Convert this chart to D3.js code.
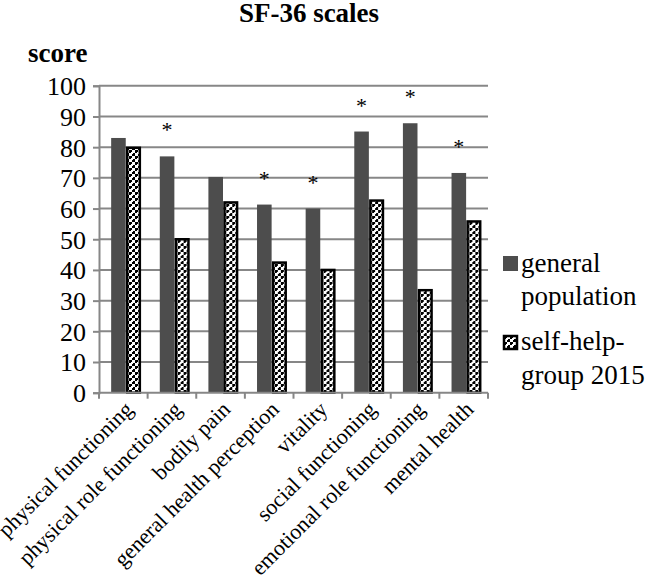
<!DOCTYPE html>
<meta charset="utf-8">
<script src="https://d3js.org/d3.v7.min.js"></script>
<body style="margin:0">
<div id="chart"></div>
<script>
// data
var categories = ["physical functioning", "physical role functioning", "bodily pain",
  "general health perception", "vitality", "social functioning",
  "emotional role functioning", "mental health"];
var seriesNames = ["general population", "self-help-group 2015"];
var generalPopulation = [83, 77, 70.3, 61.3, 60, 85.1, 87.8, 71.6];
var selfHelpGroup = [79.8, 50, 62, 42.4, 40, 62.6, 33.4, 55.8];
var significant = [false, true, false, true, true, true, true, true];
var yTicks = [0, 10, 20, 30, 40, 50, 60, 70, 80, 90, 100];

var W = 647, H = 576;
var plotLeft = 99, plotRight = 488, plotTop = 85.8, plotBottom = 392.7;
var serif = "Liberation Serif";

var svg = d3.select("#chart").append("svg")
  .attr("width", W).attr("height", H);

// stepped check pattern for the self-help bars
var defs = svg.append("defs");
var pat = defs.append("pattern")
  .attr("id", "checks")
  .attr("patternUnits", "userSpaceOnUse")
  .attr("width", 6).attr("height", 6);
pat.append("rect").attr("width", 6).attr("height", 6).attr("fill", "#000");
pat.append("rect").attr("x", 0).attr("y", 3).attr("width", 3).attr("height", 3).attr("fill", "#fff");
pat.append("rect").attr("x", 3).attr("y", 0).attr("width", 3).attr("height", 3).attr("fill", "#fff");
pat.append("rect").attr("x", 2).attr("y", 2).attr("width", 2).attr("height", 2).attr("fill", "#fff");

var x = d3.scaleBand().domain(categories).range([plotLeft, plotRight]);
var x1 = d3.scaleBand().domain(seriesNames)
  .range([x.bandwidth() * 0.25, x.bandwidth() * 0.85]);
var y = d3.scaleLinear().domain([0, 100]).range([plotBottom, plotTop]);

// title
svg.append("text").attr("x", 309).attr("y", 22)
  .attr("text-anchor", "middle").attr("font-size", 27).attr("font-weight", "bold")
  .text("SF-36 scales");
svg.append("text").attr("x", 28).attr("y", 62)
  .attr("font-size", 27).attr("font-weight", "bold")
  .text("score");

// gridlines + y axis
var yAxis = svg.append("g").attr("transform", "translate(" + plotLeft + ",0)")
  .call(d3.axisLeft(y).tickValues(yTicks).tickSize(6).tickPadding(7));
yAxis.select(".domain").attr("stroke", "#878787").attr("stroke-width", 2);
yAxis.selectAll(".tick line").attr("stroke", "#878787").attr("stroke-width", 2);
yAxis.selectAll(".tick text").attr("dy", "0.34em").attr("fill", "#000")
  .attr("font-size", 26);

svg.append("g").selectAll("line").data(yTicks.slice(1)).enter().append("line")
  .attr("x1", plotLeft).attr("x2", plotRight)
  .attr("y1", function(d) { return y(d); }).attr("y2", function(d) { return y(d); })
  .attr("stroke", "#878787").attr("stroke-width", 2);

// bars
var rows = categories.map(function(c, i) {
  return { cat: c, vals: [generalPopulation[i], selfHelpGroup[i]], sig: significant[i] };
});
var groups = svg.append("g").selectAll("g").data(rows).enter().append("g")
  .attr("transform", function(d) { return "translate(" + x(d.cat) + ",0)"; });

groups.append("rect")
  .attr("x", x1(seriesNames[0]))
  .attr("width", x1.bandwidth())
  .attr("y", function(d) { return y(d.vals[0]); })
  .attr("height", function(d) { return plotBottom - y(d.vals[0]); })
  .attr("fill", "#4d4d4d");

groups.append("rect")
  .attr("x", x1(seriesNames[1]) + 1.5)
  .attr("width", x1.bandwidth() - 2)
  .attr("y", function(d) { return y(d.vals[1]); })
  .attr("height", function(d) { return plotBottom - y(d.vals[1]); })
  .attr("fill", "url(#checks)")
  .attr("stroke", "#000").attr("stroke-width", 2.5);

// significance stars above general population bars
groups.filter(function(d) { return d.sig; }).append("text")
  .attr("x", x1(seriesNames[0]) + x1.bandwidth() / 2)
  .attr("y", function(d) { return y(d.vals[0]) - 19; })
  .attr("text-anchor", "middle").attr("font-size", 22)
  .text("*");

// x axis
var xAxis = svg.append("g").attr("transform", "translate(0," + plotBottom + ")");
xAxis.append("line").attr("x1", plotLeft).attr("x2", plotRight)
  .attr("stroke", "#878787").attr("stroke-width", 2);
xAxis.selectAll("line.tk").data(categories.concat(["end"])).enter().append("line")
  .attr("class", "tk")
  .attr("x1", function(d, i) { return plotLeft + i * x.bandwidth(); })
  .attr("x2", function(d, i) { return plotLeft + i * x.bandwidth(); })
  .attr("y1", 0).attr("y2", 6)
  .attr("stroke", "#878787").attr("stroke-width", 2);
xAxis.selectAll("text").data(categories).enter().append("text")
  .attr("transform", function(d) {
    return "translate(" + (x(d) + x.bandwidth() / 2 + 11) + ",18) rotate(-45)";
  })
  .attr("text-anchor", "end").attr("font-size", 22)
  .text(function(d) { return d; });

// legend
var legend = svg.append("g");
legend.append("rect").attr("x", 503).attr("y", 256).attr("width", 15).attr("height", 15)
  .attr("fill", "#4d4d4d");
legend.append("text").attr("x", 521).attr("y", 272).text("general");
legend.append("text").attr("x", 521).attr("y", 305).text("population");
legend.append("rect").attr("x", 504).attr("y", 336).attr("width", 13).attr("height", 13)
  .attr("fill", "url(#checks)").attr("stroke", "#000").attr("stroke-width", 2.5);
legend.append("text").attr("x", 521).attr("y", 350).text("self-help-");
legend.append("text").attr("x", 521).attr("y", 384).text("group 2015");
legend.selectAll("text").attr("font-size", 27);

// one serif face for every text
svg.selectAll("text").attr("font-family", serif);
</script>
</body>
